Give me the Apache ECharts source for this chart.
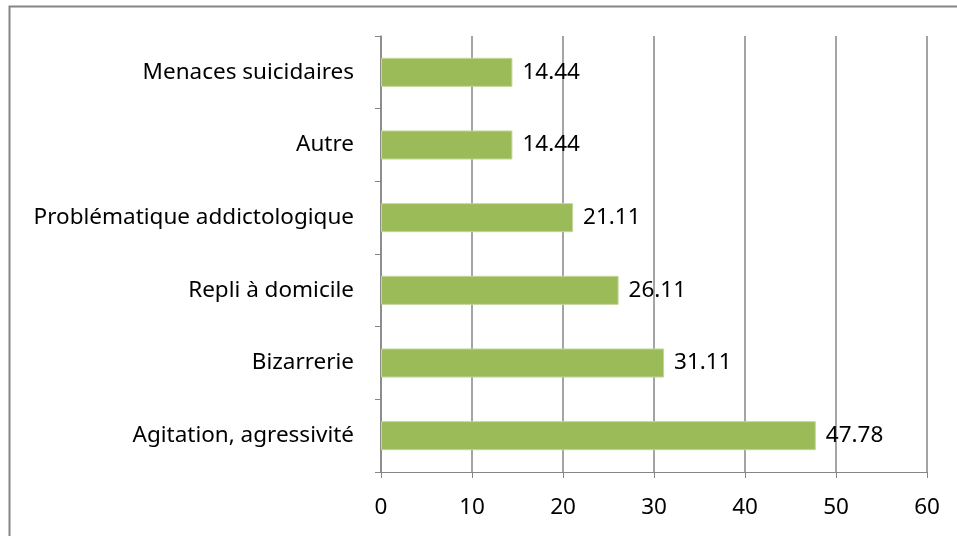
<!DOCTYPE html>
<html>
<head>
<meta charset="utf-8">
<script src="https://cdn.jsdelivr.net/npm/echarts@6/dist/echarts.min.js"></script>
<style>
  html, body { margin: 0; padding: 0; background: #fff; }
  #chart { width: 957px; height: 536px; }
</style>
</head>
<body>
<div id="chart"></div>
<script>
// categories from bottom to top
const categories = ['Agitation, agressivité', 'Bizarrerie', 'Repli à domicile', 'Problématique addictologique', 'Autre', 'Menaces suicidaires'];
const values = [47.78, 31.11, 26.11, 21.11, 14.44, 14.44];
const xTicks = [0, 10, 20, 30, 40, 50, 60];

const font = '"Noto Sans", "Open Sans", sans-serif';
const chart = echarts.init(document.getElementById('chart'));

chart.setOption({
  animation: false,
  textStyle: { fontFamily: font },
  graphic: [{
    type: 'rect',
    shape: { x: 9.5, y: 6.5, width: 1000, height: 600 },
    style: { fill: 'none', stroke: '#868686', lineWidth: 2 },
    silent: true
  }],
  grid: { left: 381, right: 30, top: 36, bottom: 64 },
  xAxis: {
    type: 'value',
    min: xTicks[0],
    max: xTicks[xTicks.length - 1],
    interval: 10,
    axisLine: { show: true, lineStyle: { color: '#868686', width: 1 } },
    axisTick: { show: true, length: 6, lineStyle: { color: '#868686' } },
    splitLine: { show: true, lineStyle: { color: '#868686', width: 1.5 } },
    axisLabel: { color: '#000', fontSize: 22.5, margin: 24, fontFamily: font }
  },
  yAxis: {
    type: 'category',
    data: categories,
    axisLine: { show: true, lineStyle: { color: '#868686', width: 1.5 } },
    axisTick: { show: true, length: 6, lineStyle: { color: '#868686' } },
    axisLabel: { color: '#000', fontSize: 22.5, margin: 27, fontFamily: font }
  },
  series: [{
    type: 'bar',
    data: values,
    barCategoryGap: '60%',
    itemStyle: { color: '#9BBB59', borderColor: '#C3D69B', borderWidth: 1 },
    label: {
      show: true,
      position: 'right',
      distance: 10,
      color: '#000',
      fontSize: 22.5,
      fontFamily: font,
      formatter: p => p.value.toFixed(2)
    }
  }]
});
</script>
</body>
</html>
